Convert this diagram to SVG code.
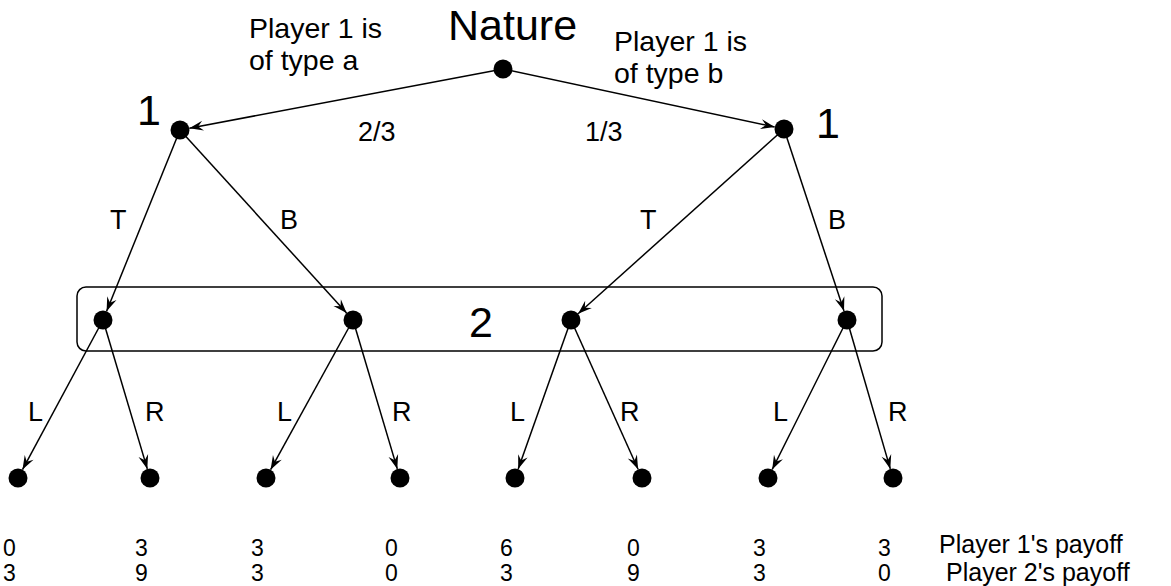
<svg xmlns="http://www.w3.org/2000/svg" width="1171" height="586" viewBox="0 0 1171 586">
<style>
text { font-family: "Liberation Sans", Arial, sans-serif; fill: #000; }
.big { font-size: 43px; }
.lbl { font-size: 27px; }
.top { font-size: 28.5px; }
.num { font-size: 23px; }
.leg { font-size: 25px; }
.edge { stroke: #000; stroke-width: 1.5; fill: none; marker-end: url(#arr); }
.node { fill: #000; }
</style>
<defs>
<marker id="arr" markerUnits="userSpaceOnUse" viewBox="-15 -6 16 12" markerWidth="16" markerHeight="12" refX="0" refY="0" orient="auto">
<path d="M0,0 L-14,-5 L-9,0 L-14,5 Z" fill="#000"/>
</marker>
</defs>
<rect x="77" y="287" width="805" height="64" rx="9" ry="9" fill="none" stroke="#000" stroke-width="1.5"/>
<g id="connectors">
<line class="edge" x1="503" y1="69" x2="189.3" y2="128.2"/>
<line class="edge" x1="503" y1="69" x2="774.7" y2="127.0"/>
<line class="edge" x1="180" y1="130" x2="106.6" y2="311.2"/>
<line class="edge" x1="180" y1="130" x2="346.6" y2="313.0"/>
<line class="edge" x1="784" y1="129" x2="578.1" y2="313.7"/>
<line class="edge" x1="784" y1="129" x2="844.0" y2="311.0"/>
<line class="edge" x1="103" y1="320" x2="22.5" y2="469.6"/>
<line class="edge" x1="103" y1="320" x2="147.3" y2="468.9"/>
<line class="edge" x1="353" y1="320" x2="270.6" y2="469.7"/>
<line class="edge" x1="353" y1="320" x2="397.3" y2="468.9"/>
<line class="edge" x1="571" y1="320" x2="518.2" y2="469.0"/>
<line class="edge" x1="571" y1="320" x2="638.1" y2="469.3"/>
<line class="edge" x1="847" y1="320" x2="772.2" y2="469.5"/>
<line class="edge" x1="847" y1="320" x2="890.3" y2="468.9"/>
</g>
<g id="edge-labels">
<text class="top" x="249" y="38">Player 1 is</text>
<text class="top" x="249" y="70">of type a</text>
<text class="top" x="614" y="51">Player 1 is</text>
<text class="top" x="614" y="83">of type b</text>
<text class="lbl" x="358" y="141">2/3</text>
<text class="lbl" x="585" y="141">1/3</text>
<text class="lbl" x="110" y="229">T</text>
<text class="lbl" x="280" y="229">B</text>
<text class="lbl" x="640" y="229">T</text>
<text class="lbl" x="828" y="229">B</text>
<text class="lbl" x="28" y="421">L</text>
<text class="lbl" x="145" y="421">R</text>
<text class="lbl" x="277" y="421">L</text>
<text class="lbl" x="392" y="421">R</text>
<text class="lbl" x="510" y="421">L</text>
<text class="lbl" x="620" y="421">R</text>
<text class="lbl" x="773" y="421">L</text>
<text class="lbl" x="888" y="421">R</text>
</g>
<g id="nature">
<circle class="node" cx="503" cy="69" r="9.5"/>
<text class="big" x="448" y="40">Nature</text>
</g>
<g id="p1-a">
<circle class="node" cx="180" cy="130" r="9.5"/>
<text class="big" x="137" y="125">1</text>
</g>
<g id="p1-b">
<circle class="node" cx="784" cy="129" r="9.5"/>
<text class="big" x="816" y="138">1</text>
</g>
<g id="p2-set">
<circle class="node" cx="103" cy="320" r="9.5"/>
<circle class="node" cx="353" cy="320" r="9.5"/>
<circle class="node" cx="571" cy="320" r="9.5"/>
<circle class="node" cx="847" cy="320" r="9.5"/>
<text class="big" x="469" y="337">2</text>
</g>
<g id="leaf1"><circle class="node" cx="18" cy="478" r="9.5"/><text class="num" x="3" y="556">0</text><text class="num" x="3" y="581">3</text></g>
<g id="leaf2"><circle class="node" cx="150" cy="478" r="9.5"/><text class="num" x="135" y="556">3</text><text class="num" x="135" y="581">9</text></g>
<g id="leaf3"><circle class="node" cx="266" cy="478" r="9.5"/><text class="num" x="251" y="556">3</text><text class="num" x="251" y="581">3</text></g>
<g id="leaf4"><circle class="node" cx="400" cy="478" r="9.5"/><text class="num" x="385" y="556">0</text><text class="num" x="385" y="581">0</text></g>
<g id="leaf5"><circle class="node" cx="515" cy="478" r="9.5"/><text class="num" x="500" y="556">6</text><text class="num" x="500" y="581">3</text></g>
<g id="leaf6"><circle class="node" cx="642" cy="478" r="9.5"/><text class="num" x="627" y="556">0</text><text class="num" x="627" y="581">9</text></g>
<g id="leaf7"><circle class="node" cx="768" cy="478" r="9.5"/><text class="num" x="753" y="556">3</text><text class="num" x="753" y="581">3</text></g>
<g id="leaf8"><circle class="node" cx="893" cy="478" r="9.5"/><text class="num" x="878" y="556">3</text><text class="num" x="878" y="581">0</text></g>
<g id="payoff-legend">
<text class="leg" x="939" y="552.5">Player 1's payoff</text>
<text class="leg" x="946" y="580.5">Player 2's payoff</text>
</g>
</svg>
